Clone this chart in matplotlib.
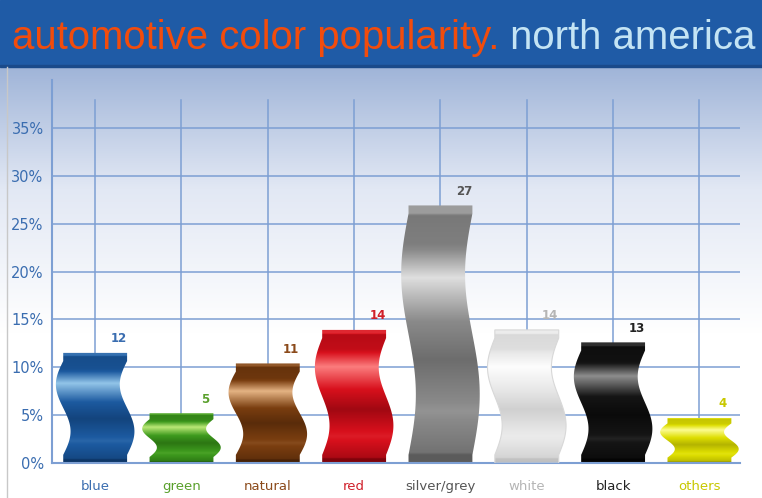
import numpy as np
import matplotlib.pyplot as plt
from matplotlib.colors import LinearSegmentedColormap
from matplotlib.patches import Polygon, Rectangle

# data
categories = ["blue", "green", "natural", "red", "silver/grey", "white", "black", "others"]
shares = [11.5, 5.2, 10.4, 13.9, 26.9, 13.9, 12.6, 4.7]   # drawn bar heights (%)
labels = ["12", "5", "11", "14", "27", "14", "13", "4"]     # printed values

bar_colors = ["#1c5aa0", "#3e9a1e", "#7a3e10", "#d8101c", "#8a8a8a", "#e8e8e8", "#151515", "#dede00"]
light_colors = ["#9fd0f0", "#c8f080", "#f0c090", "#ff8888", "#e8e8e8", "#ffffff", "#9a9a9a", "#ffffa0"]
dark_colors = ["#0a2e5a", "#1a5208", "#3a1a04", "#6a0008", "#505050", "#b8b8b8", "#000000", "#8a8a00"]
text_colors = ["#3a6db0", "#5aa02c", "#8b4a1a", "#d0202a", "#555555", "#b5b5b5", "#222222", "#c8c800"]

fig = plt.figure(figsize=(7.62, 4.98), dpi=100)

# background: gradient + title banner
bg = fig.add_axes([0, 0, 1, 1], zorder=-2)
grad = np.linspace(0, 1, 256).reshape(-1, 1)
bg_cmap = LinearSegmentedColormap.from_list(
    "bg", [(0, "#ffffff"), (0.33, "#ffffff"), (0.62, "#e2e8f4"), (0.866, "#9fb4d8"), (1, "#9fb4d8")])
bg.imshow(grad, extent=[0, 1, 0, 1], origin="lower", aspect="auto", cmap=bg_cmap)
bg.add_patch(Rectangle((0, 1 - 66 / 498), 1, 66 / 498, color="#1f5ba6"))
bg.add_patch(Rectangle((0, 1 - 67 / 498), 1, 2 / 498, color="#1a4a8a"))
bg.plot([7 / 762, 7 / 762], [0, 1 - 67 / 498], color="#c8c8c8", lw=1)
bg.set_xlim(0, 1)
bg.set_ylim(0, 1)
bg.axis("off")

fam = ["Liberation Sans", "DejaVu Sans"]
t1 = fig.text(12 / 762, 1 - 38 / 498, "automotive color popularity.", color="#f24c0c",
              fontsize=30, family=fam, va="center")
t2 = bg.annotate(" north america", xy=(1, 0.5), xycoords=t1, va="center", ha="left",
                 color="#c4e4f4", fontsize=30, family=fam)
fig.canvas.draw()
r = fig.canvas.get_renderer()
w = t1.get_window_extent(r).width + t2.get_window_extent(r).width
fs = 30 * 743 / w
t1.set_fontsize(fs)
t2.set_fontsize(fs)

ax = fig.add_axes([52 / 762, 35 / 498, 688 / 762, 383 / 498])
ax.set_facecolor("none")
x = np.arange(len(categories))

# grid
for yv in range(5, 40, 5):
    ax.plot([-0.5, 7.47], [yv, yv], color="#7d9fd3", lw=1.1, zorder=0)
for xv in x:
    ax.plot([xv, xv], [0, 37.9], color="#7d9fd3", lw=1.1, zorder=0)

half = 0.37
amp = 0.085
for i, h in enumerate(shares):
    cap = min(0.85, h * 0.12)
    ys = np.linspace(cap, h - cap, 80)
    tt = (ys - cap) / (h - 2 * cap)
    off = amp * np.sin(2 * np.pi * tt)
    left = x[i] - half + off
    right = x[i] + half + off
    pts = [(x[i] - half, 0), (x[i] + half, 0)] + list(zip(right, ys)) + \
          [(x[i] + half, h), (x[i] - half, h)] + list(zip(left[::-1], ys[::-1]))
    poly = Polygon(pts, closed=True, facecolor="none", edgecolor="none")
    ax.add_patch(poly)
    cmap = LinearSegmentedColormap.from_list("b%d" % i, [dark_colors[i], bar_colors[i], light_colors[i]])
    yy = np.linspace(0, 1, 300)
    prof = np.interp(yy, [0, 0.03, 0.04, 0.2, 0.4, 0.55, 0.72, 0.85, 0.96, 0.97, 1],
                     [0.1, 0.1, 0.3, 0.55, 0.25, 0.5, 0.95, 0.4, 0.35, 0.6, 0.6])
    im = ax.imshow(prof.reshape(-1, 1), extent=[x[i] - 0.5, x[i] + 0.5, 0, h], origin="lower",
                   aspect="auto", cmap=cmap, vmin=0, vmax=1, zorder=2)
    im.set_clip_path(poly)
    if categories[i] == "white":
        ax.add_patch(Polygon(pts, closed=True, facecolor="none", edgecolor="#d8d8d8", lw=0.8, zorder=3))
    ax.text(x[i] + 0.27, h + 0.8, labels[i], color=text_colors[i], fontsize=8.5,
            fontweight="bold", ha="center", va="bottom")

ax.set_xlim(-0.5, 7.47)
ax.set_ylim(0, 40)
ax.set_yticks(range(0, 40, 5))
ax.set_yticklabels(["%d%%" % v for v in range(0, 40, 5)])
ax.set_xticks(x)
ax.set_xticklabels(categories)
for lab, c in zip(ax.get_xticklabels(), text_colors):
    lab.set_color(c)
ax.tick_params(axis="x", length=0, pad=12, labelsize=9.5)
ax.tick_params(axis="y", length=0, pad=6, labelsize=10.5, labelcolor="#3a6db0")
for s in ["top", "right"]:
    ax.spines[s].set_visible(False)
for s in ["left", "bottom"]:
    ax.spines[s].set_color("#7d9fd3")
    ax.spines[s].set_linewidth(1.5)

plt.savefig("out.png", dpi=100)
